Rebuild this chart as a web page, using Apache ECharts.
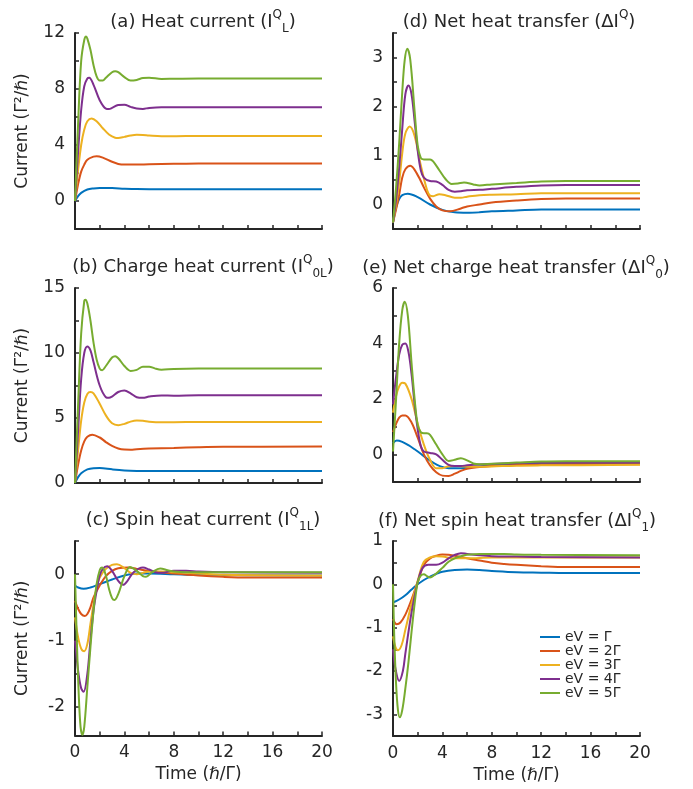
<!DOCTYPE html>
<html>
<head>
<meta charset="utf-8">
<script src="https://cdn.jsdelivr.net/npm/echarts@6/dist/echarts.min.js"></script>
<style>
html, body { margin: 0; padding: 0; background: #fff; }
#chart { width: 693px; height: 789px; }
</style>
</head>
<body>
<div id="chart"></div>
<script>
var names = ['eV = Γ', 'eV = 2Γ', 'eV = 3Γ', 'eV = 4Γ', 'eV = 5Γ'];
var colors = ['#0072BD', '#D95319', '#EDB120', '#7E2F8E', '#77AC30'];
var timeTicks = [0, 2, 4, 6, 8, 10, 12, 14, 16, 18, 20];
var timeLabels = [0, 4, 8, 12, 16, 20];

// (a) heat current
var a1 = [[0,0],[0.25,0.35],[0.5,0.58],[1,0.82],[1.5,0.9],[2,0.93],[3,0.92],[4,0.88],[5,0.85],[6,0.84],[8,0.84],[20,0.84]];
var a2 = [[0,0],[0.25,1.2],[0.5,2.1],[0.75,2.6],[1,2.95],[1.5,3.17],[1.75,3.2],[2.25,3.1],[3,2.8],[3.5,2.65],[4,2.6],[5,2.6],[6,2.63],[8,2.66],[10,2.67],[20,2.67]];
var a3 = [[0,0],[0.25,2.2],[0.5,4.0],[0.75,5.1],[1,5.7],[1.35,5.9],[1.75,5.7],[2.25,5.2],[2.75,4.75],[3.25,4.52],[3.5,4.5],[4,4.58],[4.5,4.68],[5,4.73],[5.5,4.72],[6,4.68],[7,4.63],[8,4.63],[10,4.65],[20,4.65]];
var a4 = [[0,0],[0.25,3.5],[0.5,6.5],[0.75,8.2],[1,8.75],[1.15,8.8],[1.5,8.3],[2,7.2],[2.5,6.6],[2.75,6.57],[3,6.65],[3.5,6.85],[4,6.88],[4.5,6.72],[5,6.6],[5.5,6.58],[6,6.65],[7,6.7],[20,6.7]];
var a5 = [[0,0],[0.25,5.5],[0.5,10],[0.75,11.5],[0.9,11.75],[1,11.6],[1.25,10.8],[1.5,9.7],[1.75,8.9],[2,8.6],[2.25,8.6],[2.5,8.8],[3,9.2],[3.25,9.27],[3.5,9.2],[4,8.85],[4.5,8.6],[5,8.65],[5.5,8.78],[6,8.8],[7,8.72],[8,8.73],[10,8.75],[20,8.75]];

// (b) charge heat current
var b1 = [[0,0],[0.25,0.45],[0.5,0.75],[1,1.05],[1.5,1.14],[2,1.15],[3,1.05],[4,0.97],[5,0.93],[6,0.92],[20,0.92]];
var b2 = [[0,0],[0.25,1.4],[0.5,2.5],[0.75,3.2],[1,3.55],[1.4,3.72],[2,3.5],[2.5,3.15],[3,2.85],[3.5,2.65],[4,2.57],[4.5,2.56],[5,2.6],[6,2.65],[8,2.7],[10,2.75],[12,2.78],[20,2.8]];
var b3 = [[0,0],[0.25,2.5],[0.5,4.8],[0.75,6.2],[1,6.85],[1.25,7.0],[1.5,6.9],[2,6.1],[2.5,5.2],[3,4.6],[3.5,4.45],[4,4.55],[4.5,4.72],[5,4.8],[5.5,4.78],[6,4.72],[7,4.68],[8,4.68],[10,4.7],[20,4.7]];
var b4 = [[0,0],[0.25,4],[0.5,8],[0.75,10],[1,10.5],[1.25,10.2],[1.5,9.3],[2,7.5],[2.5,6.6],[2.75,6.55],[3,6.65],[3.5,7.0],[4,7.12],[4.5,6.9],[5,6.6],[5.5,6.55],[6,6.65],[7,6.74],[8,6.72],[10,6.75],[20,6.75]];
var b5 = [[0,0],[0.25,6],[0.5,11.5],[0.75,14],[0.85,14.1],[1,13.8],[1.25,12.5],[1.5,10.8],[1.75,9.5],[2,8.8],[2.2,8.67],[2.5,9.0],[3,9.65],[3.25,9.75],[3.5,9.6],[4,9.0],[4.5,8.62],[5,8.7],[5.5,8.95],[6,8.95],[6.5,8.8],[7,8.72],[8,8.77],[10,8.8],[20,8.8]];

// (c) spin heat current
var c1 = [[0,-0.17],[0.25,-0.2],[0.7,-0.22],[1.25,-0.2],[2,-0.15],[3,-0.08],[4,-0.02],[5,0.01],[6,0.01],[8,0],[10,-0.01],[20,-0.02]];
var c2 = [[0,-0.4],[0.25,-0.52],[0.5,-0.6],[0.8,-0.63],[1,-0.6],[1.25,-0.5],[1.5,-0.35],[2,-0.17],[2.5,-0.03],[3,0.05],[3.5,0.09],[4.3,0.1],[5,0.08],[6,0.05],[7,0.03],[8,0.01],[10,-0.02],[12,-0.04],[14,-0.05],[20,-0.05]];
var c3 = [[0,-0.65],[0.25,-0.95],[0.5,-1.12],[0.75,-1.16],[1,-1.05],[1.25,-0.75],[1.5,-0.45],[1.75,-0.2],[2,-0.05],[2.5,0.08],[3,0.14],[3.4,0.15],[4,0.09],[4.5,0.02],[5,0],[5.5,0.02],[6,0.04],[7,0.04],[8,0.03],[10,0.01],[12,-0.01],[20,-0.02]];
var c4 = [[0,-1.0],[0.25,-1.45],[0.5,-1.72],[0.7,-1.77],[1,-1.5],[1.25,-1.0],[1.5,-0.55],[1.75,-0.25],[2,-0.02],[2.25,0.08],[2.6,0.12],[3,0.05],[3.5,-0.1],[3.9,-0.16],[4.25,-0.1],[4.75,0.03],[5.5,0.1],[6,0.07],[6.5,0.03],[7,0.02],[8,0.05],[9,0.05],[10,0.04],[12,0.03],[20,0.02]];
var c5 = [[0,0],[0.15,-1.0],[0.3,-1.8],[0.45,-2.3],[0.6,-2.42],[0.75,-2.3],[1,-1.7],[1.25,-1.1],[1.5,-0.55],[1.75,-0.15],[2,0.06],[2.2,0.1],[2.5,-0.02],[2.75,-0.22],[3,-0.36],[3.2,-0.39],[3.5,-0.3],[4,-0.03],[4.45,0.11],[5,0.05],[5.5,-0.03],[5.75,-0.04],[6.25,0.03],[6.9,0.085],[7.5,0.06],[8,0.04],[9,0.03],[20,0.03]];

// (d) net heat transfer
var d1 = [[0,-0.37],[0.25,-0.06],[0.5,0.11],[0.75,0.19],[1.2,0.22],[2,0.15],[3,0.0],[4,-0.11],[5,-0.16],[6,-0.17],[7,-0.16],[8,-0.14],[10,-0.12],[12,-0.1],[20,-0.1]];
var d2 = [[0,-0.37],[0.25,-0.1],[0.5,0.2],[0.75,0.55],[1,0.72],[1.4,0.79],[2,0.6],[2.5,0.35],[3,0.12],[3.5,-0.04],[4,-0.12],[4.6,-0.14],[5.5,-0.08],[6,-0.04],[7,0],[8,0.04],[10,0.08],[12,0.11],[14,0.12],[20,0.12]];
var d3 = [[0,-0.37],[0.25,0.0],[0.5,0.45],[0.75,1.05],[1,1.45],[1.35,1.59],[1.75,1.4],[2.25,0.8],[2.75,0.3],[3,0.18],[3.25,0.17],[3.75,0.21],[4.25,0.19],[5,0.14],[5.5,0.14],[6,0.16],[7,0.19],[8,0.2],[10,0.21],[12,0.23],[20,0.23]];
var d4 = [[0,-0.37],[0.25,0.1],[0.5,0.75],[0.75,1.55],[1,2.25],[1.25,2.43],[1.5,2.25],[1.75,1.7],[2,1.1],[2.25,0.7],[2.5,0.55],[3,0.48],[3.5,0.47],[4,0.4],[4.5,0.3],[5,0.26],[5.5,0.27],[6,0.29],[7,0.3],[8,0.32],[10,0.36],[12,0.39],[14,0.4],[20,0.4]];
var d5 = [[0,-0.37],[0.25,0.35],[0.5,1.25],[0.75,2.3],[0.95,2.95],[1.16,3.18],[1.4,2.95],[1.75,1.9],[2,1.2],[2.25,0.95],[2.5,0.92],[3,0.92],[3.25,0.88],[3.75,0.7],[4.25,0.52],[4.75,0.42],[5.25,0.43],[5.75,0.45],[6.5,0.41],[7,0.39],[8,0.41],[10,0.44],[12,0.47],[14,0.48],[20,0.48]];

// (e) net charge heat transfer
var e1 = [[0,0.4],[0.3,0.5],[0.75,0.45],[1.25,0.33],[1.75,0.18],[2.25,0.02],[2.75,-0.15],[3.25,-0.3],[3.75,-0.42],[4.5,-0.5],[5.5,-0.5],[6.5,-0.46],[8,-0.4],[10,-0.36],[12,-0.34],[20,-0.33]];
var e2 = [[0,0.8],[0.25,1.1],[0.5,1.32],[0.75,1.4],[1,1.4],[1.5,1.15],[2,0.6],[2.5,0],[3,-0.4],[3.5,-0.65],[4,-0.77],[4.5,-0.78],[5,-0.7],[5.5,-0.6],[6,-0.52],[7,-0.46],[8,-0.42],[10,-0.39],[12,-0.37],[20,-0.36]];
var e3 = [[0,1.5],[0.25,2.1],[0.5,2.45],[0.75,2.58],[1,2.55],[1.5,2.0],[2,1.1],[2.5,0.35],[3,-0.2],[3.5,-0.5],[4,-0.5],[4.5,-0.43],[5,-0.42],[6,-0.45],[7,-0.45],[8,-0.44],[10,-0.41],[12,-0.4],[20,-0.38]];
var e4 = [[0,1.8],[0.25,2.8],[0.5,3.6],[0.75,3.95],[1,4.0],[1.25,3.7],[1.5,2.9],[1.75,1.8],[2,0.9],[2.25,0.3],[2.5,0.1],[3,0.05],[3.5,0],[4,-0.2],[4.5,-0.38],[5,-0.42],[5.5,-0.42],[6,-0.4],[7,-0.37],[8,-0.35],[10,-0.32],[12,-0.3],[20,-0.3]];
var e5 = [[0,0.1],[0.25,2.0],[0.5,4.0],[0.75,5.2],[0.95,5.5],[1.2,5.0],[1.5,3.3],[1.75,2.0],[2,1.05],[2.25,0.8],[2.5,0.76],[2.75,0.76],[3,0.7],[3.5,0.35],[4,0],[4.5,-0.24],[5,-0.2],[5.5,-0.14],[6,-0.22],[6.5,-0.33],[7,-0.36],[8,-0.34],[10,-0.3],[12,-0.26],[14,-0.25],[20,-0.25]];

// (f) net spin heat transfer
var f1 = [[0,-0.42],[0.5,-0.35],[1,-0.25],[1.5,-0.12],[2,0],[2.5,0.1],[3,0.18],[3.5,0.24],[4,0.29],[5,0.33],[6,0.34],[7,0.33],[8,0.31],[10,0.28],[12,0.27],[14,0.26],[20,0.26]];
var f2 = [[0,-0.8],[0.3,-0.92],[0.6,-0.88],[1,-0.7],[1.5,-0.35],[2,0.05],[2.5,0.45],[3,0.6],[3.5,0.66],[4,0.69],[4.5,0.68],[5,0.66],[6,0.6],[7,0.55],[8,0.5],[9,0.47],[10,0.45],[12,0.42],[14,0.4],[20,0.4]];
var f3 = [[0,-1.2],[0.2,-1.45],[0.4,-1.52],[0.7,-1.4],[1,-1.05],[1.5,-0.45],[2,0.08],[2.5,0.52],[3,0.62],[3.5,0.65],[4,0.64],[5,0.6],[6,0.6],[8,0.62],[10,0.62],[20,0.62]];
var f4 = [[0,-1.5],[0.2,-1.95],[0.5,-2.23],[0.8,-2.0],[1,-1.6],[1.5,-0.65],[2,0.05],[2.4,0.38],[2.85,0.45],[3.5,0.45],[4,0.5],[4.5,0.6],[5,0.68],[5.5,0.72],[6,0.7],[7,0.67],[8,0.65],[10,0.64],[12,0.63],[20,0.62]];
var f5 = [[0,0],[0.1,-1.2],[0.25,-2.3],[0.4,-2.9],[0.55,-3.07],[0.75,-2.9],[1,-2.4],[1.25,-1.8],[1.5,-1.1],[1.75,-0.45],[2,0.05],[2.25,0.2],[2.5,0.23],[2.75,0.19],[3,0.16],[3.5,0.25],[4,0.38],[4.5,0.52],[5,0.6],[5.5,0.65],[6,0.68],[7,0.7],[8,0.7],[9,0.7],[10,0.69],[12,0.68],[20,0.67]];

// y ticks / labels per panel
var aTicks = [-2, 0, 2, 4, 6, 8, 10, 12], aLabels = [0, 4, 8, 12];
var bTicks = [0, 2.5, 5, 7.5, 10, 12.5, 15], bLabels = [0, 5, 10, 15];
var cTicks = [-2, -1.5, -1, -0.5, 0, 0.5], cLabels = [-2, -1, 0];
var dTicks = [-0.5, 0, 0.5, 1, 1.5, 2, 2.5, 3, 3.5], dLabels = [0, 1, 2, 3];
var eTicks = [-1, 0, 1, 2, 3, 4, 5, 6], eLabels = [0, 2, 4, 6];
var fTicks = [-3.5, -3, -2.5, -2, -1.5, -1, -0.5, 0, 0.5, 1], fLabels = [-3, -2, -1, 0, 1];

var ink = '#262626';
var font = 'DejaVu Sans';

var panels = [
    { title: '(a) Heat current (I{sup|Q}{sub|L})', left: 75, top: 33, h: 196, ymin: -2, ymax: 12, ticks: aTicks, labels: aLabels, data: [a1, a2, a3, a4, a5], bottom: false, yname: true, tx: 198, ty: 4 },
    { title: '(b) Charge heat current (I{sup|Q}{sub|0L})', left: 75, top: 288, h: 195, ymin: 0, ymax: 15, ticks: bTicks, labels: bLabels, data: [b1, b2, b3, b4, b5], bottom: false, yname: true, tx: 198, ty: 249 },
    { title: '(c) Spin heat current (I{sup|Q}{sub|1L})', left: 75, top: 541, h: 194.5, ymin: -2.43, ymax: 0.5, ticks: cTicks, labels: cLabels, data: [c1, c2, c3, c4, c5], bottom: true, yname: true, tx: 198, ty: 502 },
    { title: '(d) Net heat transfer (ΔI{sup|Q})', left: 393, top: 33, h: 196, ymin: -0.5, ymax: 3.5, ticks: dTicks, labels: dLabels, data: [d1, d2, d3, d4, d5], bottom: false, yname: false, tx: 514, ty: 4 },
    { title: '(e) Net charge heat transfer (ΔI{sup|Q}{sub|0})', left: 393, top: 288, h: 194, ymin: -1, ymax: 6, ticks: eTicks, labels: eLabels, data: [e1, e2, e3, e4, e5], bottom: false, yname: false, tx: 511, ty: 250 },
    { title: '(f) Net spin heat transfer (ΔI{sup|Q}{sub|1})', left: 393, top: 541, h: 195, ymin: -3.5, ymax: 1, ticks: fTicks, labels: fLabels, data: [f1, f2, f3, f4, f5], bottom: true, yname: false, tx: 512, ty: 503 }
];

var W = 247;
var option = {
    animation: false,
    backgroundColor: '#fff',
    textStyle: { fontFamily: font, color: ink },
    title: [], grid: [], xAxis: [], yAxis: [], series: [],
    legend: {
        orient: 'vertical',
        left: 539, top: 630, padding: 0,
        itemWidth: 20, itemHeight: 14, itemGap: 0,
        itemStyle: { opacity: 0 },
        data: names,
        textStyle: { fontFamily: font, fontSize: 14, color: ink }
    }
};

panels.forEach(function (p, i) {
    option.title.push({
        text: p.title,
        left: p.tx, top: p.ty, textAlign: 'center',
        textStyle: {
            fontFamily: font, fontSize: 18, fontWeight: 'normal', color: ink, lineHeight: 26,
            rich: {
                sup: { fontFamily: font, fontSize: 12, color: ink, verticalAlign: 'top', lineHeight: 26, padding: [0, 0, 6, 0] },
                sub: { fontFamily: font, fontSize: 12, color: ink, verticalAlign: 'bottom', lineHeight: 26, padding: [6, 0, 0, 0] }
            }
        }
    });
    option.grid.push({ left: p.left, top: p.top, width: W, height: p.h, containLabel: false });
    option.xAxis.push({
        gridIndex: i, type: 'value', min: 0, max: 20,
        name: p.bottom ? 'Time (ℏ/Γ)' : '', nameLocation: 'middle', nameGap: 31,
        nameTextStyle: { fontFamily: font, fontSize: 17, color: ink },
        axisLine: { onZero: false, lineStyle: { color: ink, width: 2 } },
        axisTick: { inside: true, length: 4, customValues: timeTicks, lineStyle: { color: ink, width: 1.5 } },
        axisLabel: { show: p.bottom, customValues: timeLabels, fontFamily: font, fontSize: 17, color: ink, margin: 9 },
        splitLine: { show: false }
    });
    option.yAxis.push({
        gridIndex: i, type: 'value', min: p.ymin, max: p.ymax,
        name: p.yname ? 'Current (Γ²/ℏ)' : '', nameLocation: 'middle', nameGap: 44,
        nameTextStyle: { fontFamily: font, fontSize: 17, color: ink },
        axisLine: { show: true, onZero: false, lineStyle: { color: ink, width: 2 } },
        axisTick: { show: true, inside: true, length: 4, customValues: p.ticks, lineStyle: { color: ink, width: 1.5 } },
        axisLabel: { customValues: p.labels, fontFamily: font, fontSize: 17, color: ink, margin: 10 },
        splitLine: { show: false }
    });
    p.data.forEach(function (d, k) {
        option.series.push({
            name: names[k], type: 'line', xAxisIndex: i, yAxisIndex: i,
            data: d, smooth: 0.35, symbol: 'none', clip: true,
            lineStyle: { color: colors[k], width: 2 },
            itemStyle: { color: colors[k] }
        });
    });
});

var chart = echarts.init(document.getElementById('chart'), null, { renderer: 'canvas' });
chart.setOption(option);
</script>
</body>
</html>
